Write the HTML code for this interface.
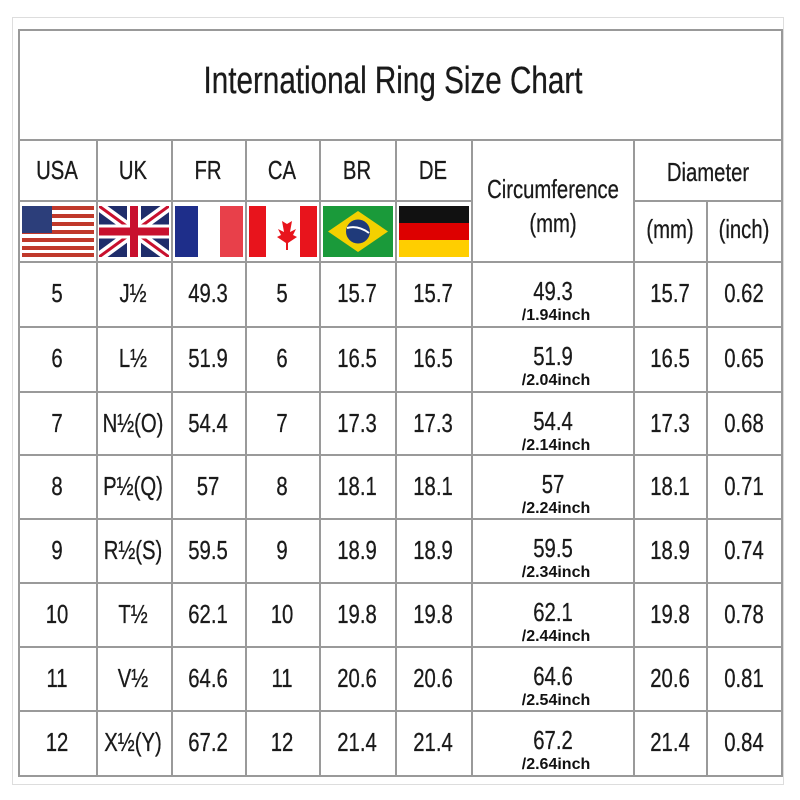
<!DOCTYPE html>
<html><head><meta charset="utf-8"><style>
body{margin:0;width:800px;height:800px;background:#fff;position:relative;overflow:hidden;font-family:"Liberation Sans",sans-serif;color:#1a1a1a}
.t{position:absolute;white-space:nowrap;transform:translateX(-50%) scaleX(.78);transform-origin:center;font-size:26px;-webkit-text-stroke:0.3px #1a1a1a}
.s{position:absolute;white-space:nowrap;transform:translateX(-50%);font-size:16px;font-weight:bold;color:#111}
.h{position:absolute;background:#9a9a9a;height:2px}
.v{position:absolute;background:#9a9a9a;width:2px}
svg{position:absolute}
</style></head><body>
<div style="position:absolute;left:12px;top:17px;width:770px;height:766px;border:1px solid #ddd"></div>
<div style="position:absolute;left:18px;top:29px;width:761px;height:744px;border:2px solid #999"></div>
<div class="h" style="left:18px;top:139px;width:763px"></div>
<div class="h" style="left:18px;top:200px;width:454px"></div>
<div class="h" style="left:634px;top:200px;width:147px"></div>
<div class="h" style="left:18px;top:261px;width:763px"></div>
<div class="h" style="left:18px;top:326px;width:763px"></div>
<div class="h" style="left:18px;top:391px;width:763px"></div>
<div class="h" style="left:18px;top:454px;width:763px"></div>
<div class="h" style="left:18px;top:518px;width:763px"></div>
<div class="h" style="left:18px;top:582px;width:763px"></div>
<div class="h" style="left:18px;top:646px;width:763px"></div>
<div class="h" style="left:18px;top:710px;width:763px"></div>
<div class="v" style="left:96px;top:140px;height:635px"></div>
<div class="v" style="left:171px;top:140px;height:635px"></div>
<div class="v" style="left:245px;top:140px;height:635px"></div>
<div class="v" style="left:319px;top:140px;height:635px"></div>
<div class="v" style="left:395px;top:140px;height:635px"></div>
<div class="v" style="left:471px;top:140px;height:635px"></div>
<div class="v" style="left:633px;top:140px;height:635px"></div>
<div class="v" style="left:706px;top:201px;height:574px"></div>
<div class="t" style="left:393px;top:60px;font-size:38px">International Ring Size Chart</div>
<div class="t" style="left:57px;top:155px">USA</div>
<div class="t" style="left:133px;top:155px">UK</div>
<div class="t" style="left:208px;top:155px">FR</div>
<div class="t" style="left:282px;top:155px">CA</div>
<div class="t" style="left:357px;top:155px">BR</div>
<div class="t" style="left:433px;top:155px">DE</div>
<div class="t" style="left:553px;top:174px">Circumference</div>
<div class="t" style="left:553px;top:208px">(mm)</div>
<div class="t" style="left:708px;top:157px">Diameter</div>
<div class="t" style="left:670px;top:214px">(mm)</div>
<div class="t" style="left:744px;top:214px">(inch)</div>
<svg style="left:22px;top:206px" width="72" height="51" viewBox="0 0 72 51"><rect width="72" height="51" fill="#fff"/><g fill="#c0392b"><rect y="0" width="72" height="4"/><rect y="8" width="72" height="4"/><rect y="16" width="72" height="4"/><rect y="24" width="72" height="4"/><rect y="32" width="72" height="4"/><rect y="40" width="72" height="4"/><rect y="47" width="72" height="4"/></g><rect width="30" height="27" fill="#2c3e7a"/></svg>
<svg style="left:99px;top:206px" width="70" height="51" viewBox="0 0 70 51"><rect width="70" height="51" fill="#1f2d6b"/><path d="M0 0L70 51M70 0L0 51" stroke="#fff" stroke-width="10"/><path d="M0 0L70 51M70 0L0 51" stroke="#c8102e" stroke-width="3"/><path d="M35 0V51M0 25.5H70" stroke="#fff" stroke-width="14"/><path d="M35 0V51M0 25.5H70" stroke="#c8102e" stroke-width="8"/></svg>
<svg style="left:175px;top:206px" width="68" height="51"><rect width="23" height="51" fill="#1e2e8a"/><rect x="23" width="22" height="51" fill="#fff"/><rect x="45" width="23" height="51" fill="#e8404a"/></svg>
<svg style="left:249px;top:206px" width="68" height="51"><rect width="68" height="51" fill="#fff"/><rect width="17" height="51" fill="#e8141c"/><rect x="51" width="17" height="51" fill="#e8141c"/><path d="M34 10l4 8 5-3-2 11 6-3-3 6 4 2-9 6v7h-2v-7l-9-6 4-2-3-6 6 3-2-11 5 3z" fill="#e8141c"/></svg>
<svg style="left:323px;top:206px" width="70" height="51"><rect width="70" height="51" fill="#1a9a3a"/><path d="M35 5L65 25.5L35 46L5 25.5Z" fill="#f3d000"/><circle cx="35" cy="25.5" r="12" fill="#1f3a7a"/><path d="M24 22q11-3 22 5" stroke="#fff" stroke-width="2" fill="none"/></svg>
<svg style="left:399px;top:206px" width="70" height="51"><rect width="70" height="17" fill="#111"/><rect y="17" width="70" height="17" fill="#dd0000"/><rect y="34" width="70" height="17" fill="#ffce00"/></svg>
<div id="rows"></div>
<script>
var d=[["5","J½","49.3","5","15.7","15.7","49.3","1.94","15.7","0.62"],["6","L½","51.9","6","16.5","16.5","51.9","2.04","16.5","0.65"],["7","N½(O)","54.4","7","17.3","17.3","54.4","2.14","17.3","0.68"],["8","P½(Q)","57","8","18.1","18.1","57","2.24","18.1","0.71"],["9","R½(S)","59.5","9","18.9","18.9","59.5","2.34","18.9","0.74"],["10","T½","62.1","10","19.8","19.8","62.1","2.44","19.8","0.78"],["11","V½","64.6","11","20.6","20.6","64.6","2.54","20.6","0.81"],["12","X½(Y)","67.2","12","21.4","21.4","67.2","2.64","21.4","0.84"]];
var ys=[262,327,392,455,519,583,647,711],cx=[57,133,208,282,357,433,553,0,670,744],h="";
d.forEach(function(r,i){var y=ys[i]+16;r.forEach(function(v,j){if(j==7)h+='<div class="s" style="left:556px;top:'+(y+29)+'px">/'+v+'inch</div>';else h+='<div class="t" style="left:'+cx[j]+'px;top:'+(j==6?y-2:y)+'px">'+v+'</div>';});});
document.getElementById("rows").innerHTML=h;
</script>
</body></html>
